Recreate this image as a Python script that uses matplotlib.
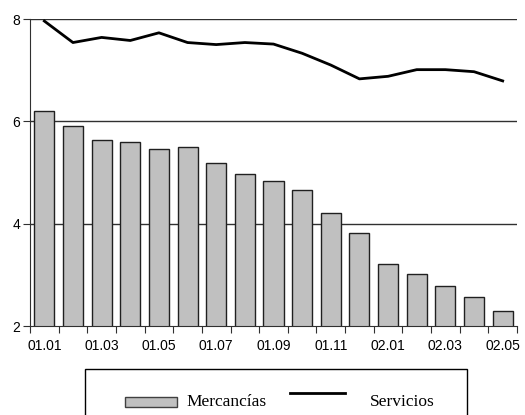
import numpy as np
import matplotlib.pyplot as plt
from matplotlib.patches import Rectangle
from matplotlib.lines import Line2D

# data
months = ['01.01', '01.02', '01.03', '01.04', '01.05', '01.06', '01.07', '01.08', '01.09',
          '01.10', '01.11', '01.12', '02.01', '02.02', '02.03', '02.04', '02.05']
mercancias = [6.20, 5.91, 5.63, 5.59, 5.46, 5.50, 5.18, 4.97, 4.83,
              4.66, 4.21, 3.81, 3.22, 3.01, 2.79, 2.56, 2.29]
servicios = [7.96, 7.54, 7.64, 7.58, 7.73, 7.54, 7.50, 7.54, 7.51,
             7.33, 7.10, 6.83, 6.88, 7.01, 7.01, 6.97, 6.79]
legend_labels = ['Mercancías', 'Servicios']

x = np.arange(len(months))

fig = plt.figure(figsize=(5.25, 4.15), dpi=100)
ax = fig.add_axes([30/525, 1-326/415, 487/525, 307/415])

ax.set_ylim(2, 8)
ax.set_xlim(-0.45, len(months) - 0.5)
ax.set_yticks([2, 4, 6, 8])
for yv in [4, 6, 8]:
    ax.axhline(yv, color='#303030', lw=1, zorder=1)

ax.bar(x, mercancias, width=0.7, color='#c0c0c0', edgecolor='#202020', lw=1, zorder=2)
ax.plot(x, servicios, color='black', lw=2, zorder=3)

# tick marks at category boundaries, labels every other month
ax.set_xticks(np.arange(len(months) + 1) - 0.5)
ax.set_xticklabels([])
ax.set_xticks(x[::2], minor=True)
ax.set_xticklabels(months[::2], minor=True)
ax.tick_params(axis='x', which='major', length=5, direction='out', color='#303030')
ax.tick_params(axis='x', which='minor', length=0, pad=9)
ax.tick_params(axis='y', length=5, direction='out', color='#303030', pad=2)
for lab in ax.get_xticklabels(minor=True) + ax.get_yticklabels():
    lab.set_fontfamily('Liberation Sans')
    lab.set_fontsize(10)

for s in ['top', 'right']:
    ax.spines[s].set_visible(False)
ax.spines['left'].set_color('#303030')
ax.spines['bottom'].set_color('#303030')

# legend box, running off the bottom of the figure (drawn by hand)
W, H = 525, 415
fig.patches.append(Rectangle((85/W, -0.05), (467-85)/W, 1-369/H+0.05,
                             transform=fig.transFigure, fill=False, ec='black', lw=1))
fig.patches.append(Rectangle((125/W, 1-407/H), 52/W, 10/H, transform=fig.transFigure,
                             fc='#c0c0c0', ec='#404040', lw=1))
fig.lines.append(Line2D([290/W, 345/W], [1-393/H, 1-393/H], transform=fig.transFigure,
                        color='black', lw=2))
fig.text(186/W, 1-402/H, legend_labels[0], family='Liberation Serif', size=12.5, va='center')
fig.text(370/W, 1-402/H, legend_labels[1], family='Liberation Serif', size=12.5, va='center')

fig.savefig('out.png', dpi=100)
